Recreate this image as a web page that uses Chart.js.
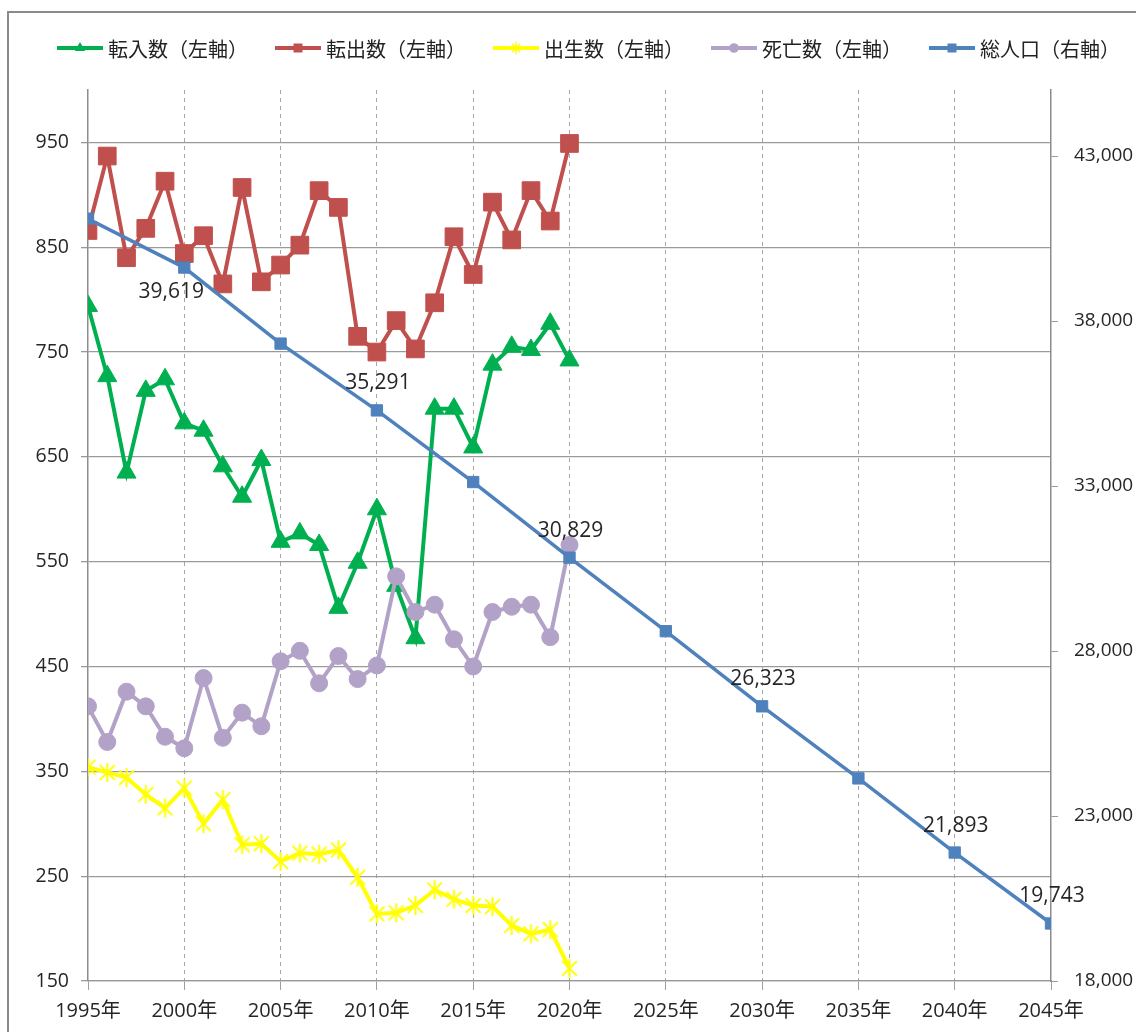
<!DOCTYPE html>
<html>
<head>
<meta charset="utf-8">
<script src="https://cdn.jsdelivr.net/npm/chart.js@4.4.1/dist/chart.umd.min.js"></script>
<style>
  body { margin: 0; background: #fff; }
  #wrap { position: relative; width: 1136px; height: 1032px; overflow: hidden; }
  #frame { position: absolute; left: 7px; top: 11px; width: 1200px; height: 1100px;
           border-top: 2px solid #8a8a8a; border-left: 2px solid #8a8a8a; }
  #chart { position: absolute; left: 0; top: 0; }
</style>
</head>
<body>
<div id="wrap">
  <div id="frame"></div>
  <canvas id="chart" width="1136" height="1032"></canvas>
</div>
<script>
// yearly series 1995-2020
const years = [1995, 1996, 1997, 1998, 1999, 2000, 2001, 2002, 2003, 2004, 2005, 2006, 2007,
               2008, 2009, 2010, 2011, 2012, 2013, 2014, 2015, 2016, 2017, 2018, 2019, 2020];
const tennyu = [794, 727, 635, 713, 724, 682, 675, 641, 612, 647, 569, 577, 566,
                506, 549, 600, 527, 477, 696, 696, 659, 738, 755, 752, 777, 742];
const tenshutsu = [866, 937, 840, 868, 913, 844, 861, 815, 907, 817, 833, 852, 904,
                   888, 765, 750, 780, 753, 797, 860, 824, 893, 857, 904, 875, 949];
const shussei = [354, 349, 344, 328, 315, 334, 300, 323, 280, 281, 264, 272, 271,
                 275, 249, 214, 215, 222, 237, 228, 222, 221, 203, 195, 199, 162];
const shibou = [412, 378, 426, 412, 383, 372, 439, 382, 406, 393, 455, 465, 434,
                460, 438, 451, 536, 502, 509, 476, 450, 502, 507, 509, 478, 566];

// total population, every 5 years (right axis)
const popYears = [1995, 2000, 2005, 2010, 2015, 2020, 2025, 2030, 2035, 2040, 2045];
const population = [41100, 39619, 37315, 35291, 33120, 30829, 28600, 26323, 24140, 21893, 19743];
const labeledYears = [2000, 2010, 2020, 2030, 2040, 2045];

// tick labels
const xTicks = [1995, 2000, 2005, 2010, 2015, 2020, 2025, 2030, 2035, 2040, 2045];
const leftTicks = [150, 250, 350, 450, 550, 650, 750, 850, 950];
const rightTicks = [18000, 23000, 28000, 33000, 38000, 43000];

const seriesNames = ["転入数（左軸）", "転出数（左軸）", "出生数（左軸）", "死亡数（左軸）", "総人口（右軸）"];

const GREEN = "#00B050", RED = "#C0504D", YELLOW = "#FFFF00", PURPLE = "#B3A2C7", BLUE = "#4F81BD";
const NUM_FONT = '"Open Sans", "Noto Sans CJK JP", sans-serif';
const JP_FONT = '"Noto Sans CJK JP", sans-serif';

// Excel-like star marker: X plus a vertical stroke
function starMarker(size, color, lw) {
  const c = document.createElement("canvas");
  c.width = c.height = size;
  const g = c.getContext("2d");
  const m = size / 2, r = size / 2 - 1, d = r * 0.78;
  g.strokeStyle = color;
  g.lineWidth = lw;
  g.beginPath();
  g.moveTo(m - d, m - d); g.lineTo(m + d, m + d);
  g.moveTo(m + d, m - d); g.lineTo(m - d, m + d);
  g.moveTo(m, m - r); g.lineTo(m, m + r);
  g.stroke();
  return c;
}

const pts = (xs, ys) => xs.map((x, i) => ({ x, y: ys[i] }));

function drawMarker(ctx, style, color, x, y, r) {
  ctx.fillStyle = color;
  ctx.strokeStyle = color;
  ctx.beginPath();
  if (style === "triangle") {
    ctx.moveTo(x, y - r);
    ctx.lineTo(x + r * 0.87, y + r * 0.5);
    ctx.lineTo(x - r * 0.87, y + r * 0.5);
    ctx.closePath();
    ctx.fill();
  } else if (style === "rect") {
    ctx.rect(x - r * 0.75, y - r * 0.75, r * 1.5, r * 1.5);
    ctx.fill();
  } else if (style === "circle") {
    ctx.arc(x, y, r * 0.8, 0, Math.PI * 2);
    ctx.fill();
  } else {
    ctx.lineWidth = 1.5;
    ctx.moveTo(x - r * 0.7, y - r * 0.7); ctx.lineTo(x + r * 0.7, y + r * 0.7);
    ctx.moveTo(x + r * 0.7, y - r * 0.7); ctx.lineTo(x - r * 0.7, y + r * 0.7);
    ctx.moveTo(x, y - r); ctx.lineTo(x, y + r);
    ctx.stroke();
  }
}

const lineLegend = {
  id: "lineLegend",
  afterDraw(chart) {
    const ctx = chart.ctx;
    const y = 48;
    let x = 57;
    ctx.save();
    chart.data.datasets.forEach(ds => {
      ctx.strokeStyle = ds.borderColor;
      ctx.lineWidth = 4;
      ctx.beginPath();
      ctx.moveTo(x, y);
      ctx.lineTo(x + 46, y);
      ctx.stroke();
      drawMarker(ctx, ds.legendMarker, ds.borderColor, x + 23, y, 6);
      ctx.font = "20px " + JP_FONT;
      ctx.textBaseline = "middle";
      ctx.textAlign = "left";
      ctx.fillStyle = "#222";
      ctx.fillText(ds.label, x + 51, y + 1);
      x += 218;
    });
    ctx.restore();
  }
};

const popLabels = {
  id: "popLabels",
  afterDatasetsDraw(chart) {
    const meta = chart.getDatasetMeta(4);
    const ctx = chart.ctx;
    ctx.save();
    ctx.font = "21px " + NUM_FONT;
    ctx.fillStyle = "#262626";
    ctx.textAlign = "center";
    ctx.textBaseline = "middle";
    popYears.forEach((yr, i) => {
      if (!labeledYears.includes(yr)) return;
      const p = meta.data[i];
      const below = i === 1;
      const dx = below ? -13 : 1;
      const dy = below ? 24 : -27;
      ctx.fillText(population[i].toLocaleString("en-US"), p.x + dx, p.y + dy);
    });
    ctx.restore();
  }
};

const baseLine = {
  borderWidth: 4,
  pointBorderWidth: 1,
  yAxisID: "y",
  tension: 0
};

// vertical dashed grid, but not on top of the two y axis lines
const xGridColor = c => (c.tick && (c.tick.value === xTicks[0] || c.tick.value === xTicks[xTicks.length - 1]))
  ? "rgba(0,0,0,0)" : "#a6a6a6";

new Chart(document.getElementById("chart"), {
  type: "line",
  data: {
    datasets: [
      { ...baseLine, label: seriesNames[0], data: pts(years, tennyu), borderColor: GREEN,
        backgroundColor: GREEN, pointStyle: "triangle", pointRadius: 11, legendMarker: "triangle", order: 5 },
      { ...baseLine, label: seriesNames[1], data: pts(years, tenshutsu), borderColor: RED,
        backgroundColor: RED, pointStyle: "rect", pointRadius: 12.5, legendMarker: "rect", order: 4 },
      { ...baseLine, label: seriesNames[2], data: pts(years, shussei), borderColor: YELLOW,
        backgroundColor: YELLOW, pointStyle: starMarker(21, YELLOW, 2), pointRadius: 10, legendMarker: "star", order: 3 },
      { ...baseLine, label: seriesNames[3], data: pts(years, shibou), borderColor: PURPLE,
        backgroundColor: PURPLE, pointStyle: "circle", pointRadius: 8.5, legendMarker: "circle", order: 2 },
      { ...baseLine, label: seriesNames[4], data: pts(popYears, population), borderColor: BLUE, borderWidth: 3.5,
        backgroundColor: BLUE, pointStyle: "rect", pointRadius: 8, yAxisID: "y2", legendMarker: "rect", order: 1 }
    ]
  },
  options: {
    responsive: false,
    animation: false,
    events: [],
    layout: { padding: { top: 90, left: 0, right: 0, bottom: 0 } },
    plugins: { legend: { display: false }, tooltip: { enabled: false } },
    scales: {
      x: {
        type: "linear",
        min: 1995,
        max: 2045,
        afterBuildTicks: s => { s.ticks = xTicks.map(v => ({ value: v })); },
        afterFit: s => { s.height = 51; },
        ticks: { callback: v => v + "年", color: "#262626", padding: 9, maxRotation: 0,
                 font: { family: NUM_FONT, size: 20 } },
        grid: { color: xGridColor, lineWidth: 1, tickLength: 9, tickColor: "#a0a0a0" },
        border: { display: true, color: "#999", width: 1.3, dash: [4, 4] }
      },
      y: {
        position: "left",
        min: 150,
        max: 1000,
        afterBuildTicks: s => { s.ticks = leftTicks.map(v => ({ value: v })); },
        afterFit: s => { s.width = 88; },
        ticks: { color: "#262626", padding: 12, font: { family: NUM_FONT, size: 19.5 } },
        grid: { color: "#9a9a9a", lineWidth: 1.3, tickLength: 7, tickColor: "#9a9a9a" },
        border: { display: true, color: "#8c8c8c", width: 1.5 }
      },
      y2: {
        position: "right",
        min: 18000,
        max: 45000,
        afterBuildTicks: s => { s.ticks = rightTicks.map(v => ({ value: v })); },
        afterFit: s => { s.width = 85; },
        ticks: { color: "#262626", padding: 16, font: { family: NUM_FONT, size: 19 },
                 callback: v => v.toLocaleString("en-US") },
        grid: { drawOnChartArea: false, tickLength: 7, tickColor: "#9a9a9a" },
        border: { display: true, color: "#8c8c8c", width: 1.5 }
      }
    }
  },
  plugins: [lineLegend, popLabels]
});
</script>
</body>
</html>
